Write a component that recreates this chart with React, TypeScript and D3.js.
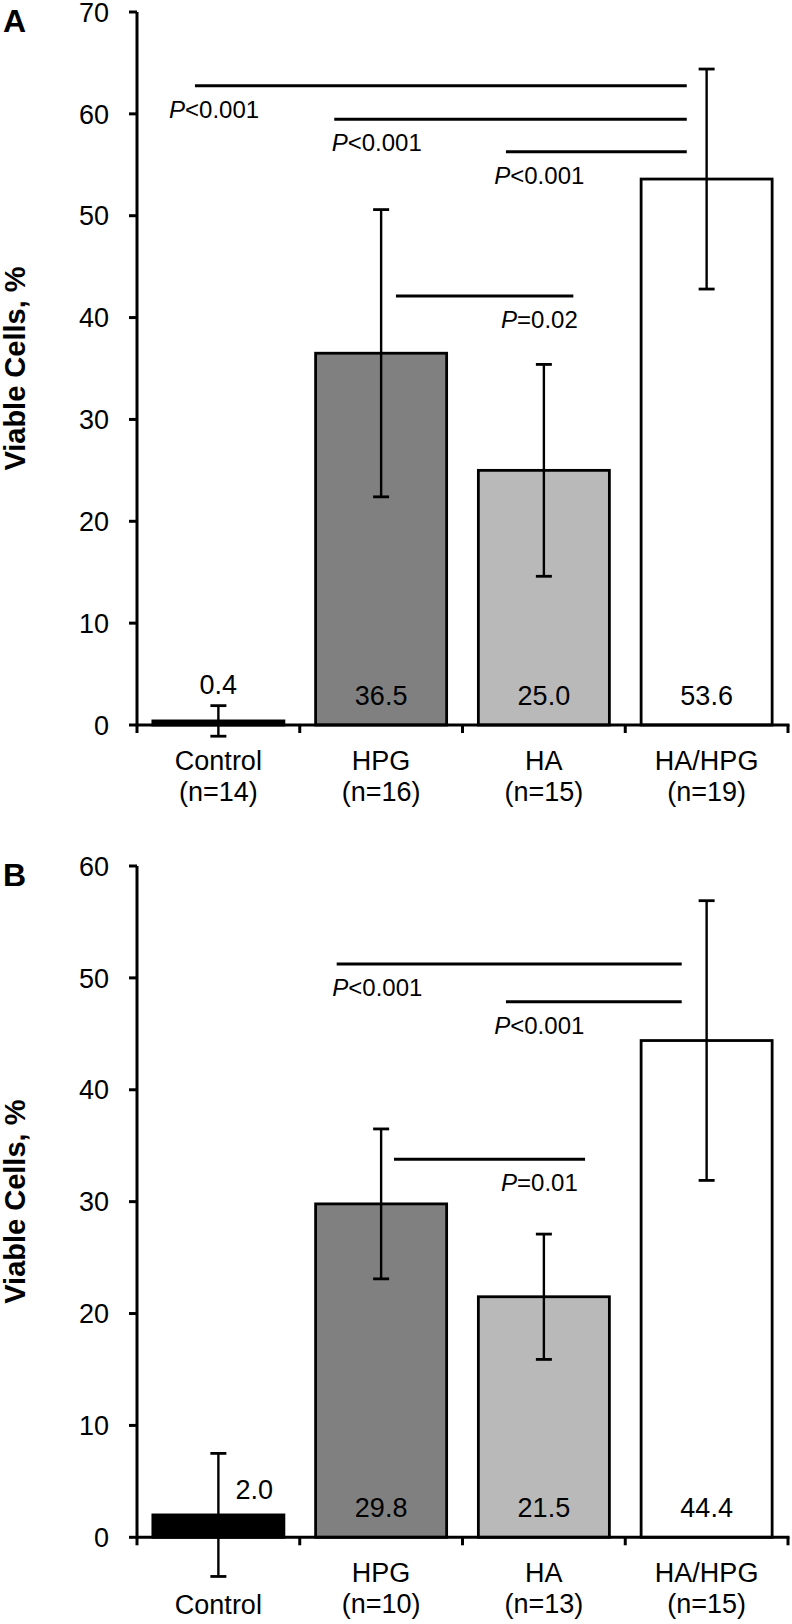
import React from "react";
import * as d3 from "d3";

const categories = ["Control", "HPG", "HA", "HA/HPG"];
const fills = ["#000000", "#808080", "#b9b9b9", "#ffffff"];

const nA = [14, 16, 15, 19];
const meanA = [0.4, 36.5, 25.0, 53.6];
const errA = [1.5, 14.1, 10.4, 10.8];
const ticksA = [0, 10, 20, 30, 40, 50, 60, 70];

const nB = [null, 10, 13, 15];
const meanB = [2.0, 29.8, 21.5, 44.4];
const errB = [5.5, 6.7, 5.6, 12.5];
const ticksB = [0, 10, 20, 30, 40, 50, 60];

// brackets: from/to in category units, y in data units, label anchor in category units
const bracketsA = [
  { from: -0.144, to: 2.878, y: 62.76, op: "<", p: "0.001", lx: -0.303, anchor: "start" },
  { from: 0.712, to: 2.878, y: 59.46, op: "<", p: "0.001", lx: 0.696, anchor: "start" },
  { from: 1.767, to: 2.878, y: 56.28, op: "<", p: "0.001", lx: 1.695, anchor: "start" },
  { from: 1.091, to: 2.181, y: 42.12, op: "=", p: "0.02", lx: 1.737, anchor: "start" },
];
const bracketsB = [
  { from: 0.727, to: 2.847, y: 51.23, op: "<", p: "0.001", lx: 0.7, anchor: "start" },
  { from: 1.767, to: 2.847, y: 47.86, op: "<", p: "0.001", lx: 1.695, anchor: "start" },
  { from: 1.079, to: 2.253, y: 33.78, op: "=", p: "0.01", lx: 1.737, anchor: "start" },
];

const FONT = "'Liberation Sans', Arial, Helvetica, sans-serif";
const X0 = 137;
const X1 = 788;

type PanelProps = {
  letter: string;
  top: number;
  bottom: number;
  yMax: number;
  ticks: number[];
  means: number[];
  errs: number[];
  ns: (number | null)[];
  brackets: typeof bracketsA;
  smallLabel: "above" | "right";
};

function Panel(props: PanelProps) {
  const { letter, top, bottom, yMax, ticks, means, errs, ns, brackets, smallLabel } = props;
  const y = d3.scaleLinear().domain([0, yMax]).range([bottom, top]);
  const x = d3
    .scaleBand<string>()
    .domain(categories)
    .range([X0, X1])
    .paddingInner(0.195)
    .paddingOuter(0.0975);
  const xc = d3.scaleLinear().domain([-0.5, categories.length - 0.5]).range([X0, X1]);
  const step = x.step();
  const y0 = y(0);

  return (
    <g>
      <text x={3} y={top + 20} fontFamily={FONT} fontWeight="bold" fontSize={32} fill="#000">
        {letter}
      </text>
      <text
        transform={`translate(25,${(top + bottom) / 2}) rotate(-90)`}
        textAnchor="middle"
        fontFamily={FONT}
        fontWeight="bold"
        fontSize={29}
        fill="#000"
      >
        Viable Cells, %
      </text>

      {/* bars */}
      {categories.map((c, i) => (
        <rect
          key={"bar" + c}
          x={x(c)}
          y={y(means[i])}
          width={x.bandwidth()}
          height={y0 - y(means[i])}
          fill={fills[i]}
          stroke="#000"
          strokeWidth={2.8}
        />
      ))}

      {/* error bars */}
      {categories.map((c, i) => {
        const cx = (x(c) as number) + x.bandwidth() / 2;
        const hi = y(means[i] + errs[i]);
        const lo = y(means[i] - errs[i]);
        return (
          <g key={"err" + c} stroke="#000">
            <line x1={cx} x2={cx} y1={hi} y2={lo} strokeWidth={2.4} />
            <line x1={cx - 8} x2={cx + 8} y1={hi} y2={hi} strokeWidth={2.8} />
            <line x1={cx - 8} x2={cx + 8} y1={lo} y2={lo} strokeWidth={2.8} />
          </g>
        );
      })}

      {/* value labels */}
      {categories.map((c, i) => {
        const cx = (x(c) as number) + x.bandwidth() / 2;
        const label = means[i].toFixed(1);
        let tx = cx;
        let ty = y0 - 20;
        if (means[i] < 5) {
          if (smallLabel === "above") {
            ty = y(means[i] + errs[i]) - 12;
          } else {
            tx = cx + 36;
            ty = y(means[i]) - 16;
          }
        }
        return (
          <text
            key={"val" + c}
            x={tx}
            y={ty}
            textAnchor="middle"
            fontFamily={FONT}
            fontSize={27}
            fill="#000"
          >
            {label}
          </text>
        );
      })}

      {/* significance brackets */}
      {brackets.map((b, i) => {
        const ly = y(b.y);
        return (
          <g key={"br" + i}>
            <line x1={xc(b.from)} x2={xc(b.to)} y1={ly} y2={ly} stroke="#000" strokeWidth={3} />
            <text
              x={xc(b.lx)}
              y={ly + 32}
              textAnchor={b.anchor}
              fontFamily={FONT}
              fontSize={24}
              fill="#000"
            >
              <tspan fontStyle="italic">P</tspan>
              {b.op + b.p}
            </text>
          </g>
        );
      })}

      {/* y axis */}
      <line x1={X0} x2={X0} y1={top} y2={y0 + 1.5} stroke="#000" strokeWidth={3} />
      {ticks.map((t) => (
        <g key={"yt" + t}>
          <line x1={X0 - 8} x2={X0} y1={y(t)} y2={y(t)} stroke="#000" strokeWidth={3} />
          <text
            x={X0 - 28}
            y={y(t)}
            dy="0.36em"
            textAnchor="end"
            fontFamily={FONT}
            fontSize={27}
            fill="#000"
          >
            {t}
          </text>
        </g>
      ))}

      {/* x axis */}
      <line x1={X0} x2={X1 + 1.5} y1={y0} y2={y0} stroke="#000" strokeWidth={3} />
      {d3.range(categories.length + 1).map((k) => (
        <line
          key={"xt" + k}
          x1={X0 + k * step}
          x2={X0 + k * step}
          y1={y0}
          y2={y0 + 8}
          stroke="#000"
          strokeWidth={3}
        />
      ))}
      {categories.map((c, i) => {
        const cx = (x(c) as number) + x.bandwidth() / 2;
        const n = ns[i];
        return (
          <text key={"cl" + c} textAnchor="middle" fontFamily={FONT} fontSize={27} fill="#000">
            {n === null ? (
              <tspan x={cx} y={y0 + 77}>
                {c}
              </tspan>
            ) : (
              <>
                <tspan x={cx} y={y0 + 45}>
                  {c}
                </tspan>
                <tspan x={cx} y={y0 + 76}>{`(n=${n})`}</tspan>
              </>
            )}
          </text>
        );
      })}
    </g>
  );
}

export default function App() {
  return (
    <svg
      width={792}
      height={1624}
      viewBox="0 0 792 1624"
      style={{ position: "absolute", left: 0, top: 0, background: "#fff" }}
    >
      <rect x={0} y={0} width={792} height={1624} fill="#fff" />
      <Panel
        letter="A"
        top={12}
        bottom={725}
        yMax={70}
        ticks={ticksA}
        means={meanA}
        errs={errA}
        ns={nA}
        brackets={bracketsA}
        smallLabel="above"
      />
      <Panel
        letter="B"
        top={866}
        bottom={1537.3}
        yMax={60}
        ticks={ticksB}
        means={meanB}
        errs={errB}
        ns={nB}
        brackets={bracketsB}
        smallLabel="right"
      />
    </svg>
  );
}
